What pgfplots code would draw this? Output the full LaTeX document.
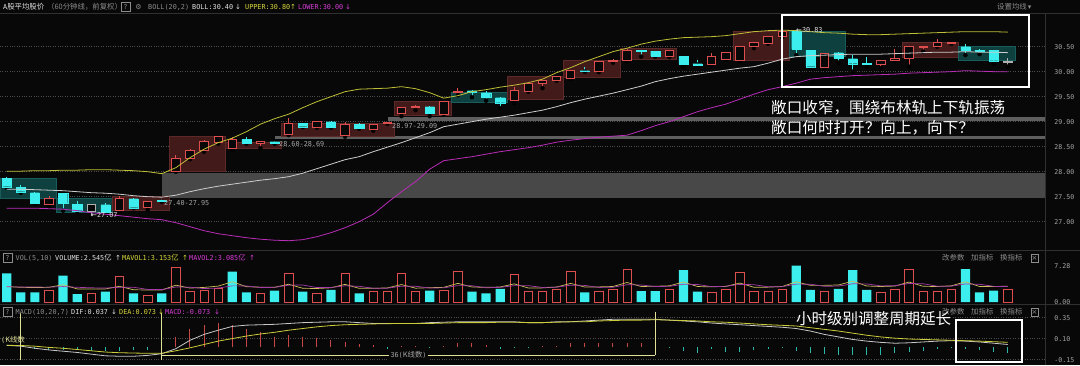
\documentclass[border=0pt]{standalone}
\usepackage{pgfplots}
\pgfplotsset{compat=1.18}
\usepackage{pgfplotstable}
\usepackage{fontspec}
\setmainfont{DejaVu Sans Mono}
\newfontfamily\cjk{Noto Sans CJK SC}
\newfontfamily\djs{DejaVu Sans}

\definecolor{bgc}{RGB}{8,8,8}
\definecolor{sepc}{RGB}{48,48,48}
\definecolor{gridc}{RGB}{75,75,75}
\definecolor{labc}{RGB}{165,165,165}
\definecolor{hwhite}{RGB}{225,225,225}
\definecolor{hgray}{RGB}{140,140,140}
\definecolor{hyel}{RGB}{215,215,60}
\definecolor{hmag}{RGB}{215,60,215}
\definecolor{cred}{RGB}{222,78,78}
\definecolor{ccyan}{RGB}{60,238,238}
\definecolor{cgray}{RGB}{175,175,175}
\definecolor{boxr}{RGB}{66,26,26}
\definecolor{boxrl}{RGB}{92,40,40}
\definecolor{boxt}{RGB}{14,64,64}
\definecolor{boxtl}{RGB}{25,92,92}
\definecolor{bandA}{RGB}{72,72,72}
\definecolor{bandB}{RGB}{95,95,95}
\definecolor{bup}{RGB}{190,190,55}
\definecolor{bmid}{RGB}{205,205,205}
\definecolor{blo}{RGB}{185,45,185}
\definecolor{mav1}{RGB}{205,190,90}
\definecolor{mav2}{RGB}{165,60,170}
\definecolor{difc}{RGB}{200,200,200}
\definecolor{deac}{RGB}{205,205,60}
\definecolor{mred}{RGB}{200,70,70}
\definecolor{mcyan}{RGB}{40,185,170}
\definecolor{annc}{RGB}{225,225,150}

\newcommand{\hf}{\fontsize{6.8}{8}\selectfont}
\newcommand{\hc}{\cjk\fontsize{7.4}{8}\selectfont}
\newcommand{\ar}[1]{{\djs\fontsize{7}{8}\selectfont #1}}

% candles: i open high low close
\pgfplotstableread{
i o h l c
3 27.35 27.51 27.30 27.47
8 27.22 27.51 27.20 27.47
10 27.29 27.42 27.24 27.41
12 28.01 28.33 28.00 28.27
13 28.27 28.45 28.25 28.43
14 28.42 28.63 28.40 28.60
15 28.58 28.72 28.56 28.71
16 28.47 28.70 28.43 28.65
18 28.57 28.60 28.47 28.60
20 28.75 29.07 28.73 28.97
22 28.89 29.02 28.88 29.00
24 28.72 28.99 28.70 28.95
26 28.85 28.96 28.82 28.95
27 28.97 29.00 28.96 28.99
28 29.17 29.30 29.11 29.29
29 29.29 29.34 29.23 29.31
31 29.15 29.40 29.15 29.40
32 29.59 29.67 29.53 29.61
36 29.43 29.70 29.37 29.63
37 29.61 29.78 29.60 29.77
38 29.77 29.84 29.67 29.83
39 29.83 29.91 29.82 29.90
40 29.87 30.03 29.86 30.02
42 30.00 30.21 29.99 30.20
43 30.20 30.25 30.18 30.23
44 30.23 30.46 30.20 30.43
47 30.30 30.43 30.29 30.42
50 30.14 30.37 30.13 30.30
51 30.25 30.40 30.24 30.39
52 30.22 30.52 30.21 30.51
53 30.50 30.60 30.47 30.58
54 30.57 30.71 30.56 30.70
55 30.70 30.81 30.69 30.80
58 30.08 30.38 30.07 30.37
62 30.14 30.24 30.07 30.23
63 30.22 30.45 30.21 30.27
64 30.27 30.51 30.10 30.50
65 30.49 30.52 30.40 30.50
66 30.51 30.65 30.50 30.59
67 30.57 30.60 30.56 30.59
}\tabRed

\pgfplotstableread{
i o h l c
0 27.87 27.90 27.68 27.70
1 27.69 27.73 27.58 27.60
2 27.58 27.59 27.36 27.37
4 27.57 27.58 27.22 27.37
5 27.35 27.42 27.21 27.22
7 27.34 27.37 27.18 27.19
9 27.46 27.47 27.27 27.28
11 27.43 27.45 27.40 27.41
17 28.65 28.70 28.56 28.57
19 28.60 28.61 28.56 28.57
21 28.97 28.98 28.89 28.90
23 29.00 29.01 28.88 28.89
25 28.95 28.97 28.86 28.87
30 29.30 29.32 29.11 29.17
33 29.62 29.63 29.49 29.60
34 29.58 29.62 29.42 29.49
35 29.48 29.49 29.27 29.38
41 30.02 30.10 30.00 30.01
45 30.43 30.44 30.30 30.41
46 30.41 30.42 30.30 30.31
48 30.31 30.32 30.10 30.15
49 30.16 30.24 30.14 30.14
56 30.82 30.83 30.33 30.45
57 30.43 30.44 30.09 30.10
59 30.38 30.40 30.18 30.27
60 30.26 30.33 30.00 30.16
61 30.17 30.30 30.10 30.15
68 30.50 30.56 30.33 30.43
69 30.43 30.45 30.35 30.42
70 30.43 30.44 30.16 30.22
}\tabCyan

\pgfplotstableread{
i o h l c
6 27.21 27.35 27.07 27.34
71 30.19 30.27 30.10 30.20
}\tabGray

% Bollinger bands
\pgfplotstableread{
i up mid lo
0 28.01 27.65 27.27
1 28.01 27.65 27.27
2 28.02 27.64 27.27
3 28.02 27.63 27.26
4 28.03 27.62 27.25
5 28.03 27.60 27.22
6 28.04 27.58 27.18
7 28.04 27.57 27.15
8 28.03 27.55 27.12
9 28.02 27.52 27.09
10 28.00 27.50 27.06
11 27.96 27.49 27.04
12 28.08 27.53 26.98
13 28.28 27.60 26.90
14 28.45 27.66 26.82
15 28.58 27.71 26.76
16 28.67 27.75 26.72
17 28.80 27.79 26.68
18 28.95 27.83 26.65
19 29.06 27.86 26.63
20 29.15 27.90 26.62
21 29.28 27.97 26.64
22 29.40 28.06 26.70
23 29.50 28.15 26.78
24 29.60 28.24 26.88
25 29.65 28.30 27.00
26 29.66 28.40 27.15
27 29.67 28.49 27.38
28 29.70 28.58 27.60
29 29.66 28.68 27.80
30 29.58 28.78 28.05
31 29.47 28.90 28.22
32 29.52 28.95 28.26
33 29.60 29.00 28.30
34 29.64 29.05 28.35
35 29.69 29.09 28.40
36 29.73 29.13 28.44
37 29.78 29.18 28.48
38 29.85 29.23 28.53
39 29.98 29.30 28.59
40 30.08 29.38 28.63
41 30.20 29.45 28.66
42 30.30 29.51 28.69
43 30.40 29.57 28.71
44 30.47 29.64 28.73
45 30.55 29.71 28.82
46 30.61 29.80 28.92
47 30.65 29.86 29.00
48 30.68 29.91 29.10
49 30.69 29.95 29.20
50 30.70 29.99 29.28
51 30.72 30.03 29.35
52 30.76 30.07 29.45
53 30.80 30.10 29.55
54 30.82 30.17 29.64
55 30.83 30.25 29.70
56 30.82 30.30 29.77
57 30.80 30.32 29.85
58 30.78 30.33 29.88
59 30.77 30.34 29.90
60 30.75 30.35 29.92
61 30.74 30.35 29.93
62 30.74 30.35 29.94
63 30.75 30.36 29.95
64 30.76 30.37 29.97
65 30.77 30.38 29.98
66 30.78 30.39 29.99
67 30.79 30.39 30.00
68 30.80 30.40 30.02
69 30.80 30.39 30.01
70 30.80 30.39 30.00
71 30.79 30.38 30.00
}\tabBoll

% volume (yi)
\pgfplotstableread{
i v
3 2.41
6 1.74
8 5.08
10 1.41
12 6.88
13 2.20
14 2.41
15 2.74
18 1.74
20 5.75
22 1.74
24 5.75
26 2.07
27 2.20
28 5.75
29 2.07
31 2.41
32 6.21
36 5.55
37 2.07
38 2.20
39 2.61
40 6.21
42 2.20
43 2.61
44 6.61
47 2.61
50 1.94
51 2.61
52 5.95
53 2.20
54 2.20
55 2.61
58 2.20
62 1.94
63 2.61
64 6.61
65 2.20
66 2.20
67 2.61
71 2.55
}\volRed

\pgfplotstableread{
i v
0 5.75
1 1.94
2 1.94
4 5.28
5 1.60
7 2.07
9 1.74
11 1.74
16 6.08
17 1.94
19 2.27
21 2.07
23 2.41
25 1.74
30 2.27
33 2.07
34 1.74
35 2.61
41 1.94
45 2.20
46 2.20
48 6.41
49 2.07
56 7.28
57 2.41
59 2.61
60 6.41
61 2.41
68 6.61
69 1.94
70 2.27
}\volCyan

\pgfplotstableread{
i m5 m10
0 3.10 3.05
1 2.95 3.02
2 2.90 3.00
3 2.95 2.98
4 3.46 3.10
5 2.63 2.95
6 2.59 2.85
7 2.62 2.80
8 3.15 2.95
9 2.45 2.96
10 2.41 2.52
11 2.41 2.50
12 3.37 3.00
13 2.79 2.97
14 2.93 2.69
15 3.19 2.80
16 4.06 3.24
17 3.07 3.22
18 2.98 2.89
19 2.95 2.94
20 3.56 3.38
21 2.75 3.41
22 2.71 2.89
23 2.85 2.92
24 3.54 3.25
25 2.74 3.15
26 2.74 2.75
27 2.83 2.77
28 3.50 3.18
29 2.77 3.16
30 2.87 2.81
31 2.94 2.84
32 3.74 3.29
33 3.01 3.26
34 2.94 2.86
35 3.01 2.94
36 3.64 3.29
37 2.81 3.28
38 2.83 2.92
39 3.01 2.98
40 3.73 3.37
41 3.01 3.33
42 3.03 2.92
43 3.11 2.97
44 3.91 3.46
45 3.11 3.42
46 3.16 3.09
47 3.25 3.14
48 4.01 3.56
49 3.10 3.51
50 3.05 3.08
51 3.13 3.15
52 3.80 3.53
53 2.95 3.48
54 2.98 3.04
55 3.11 3.08
56 4.05 3.59
57 3.34 3.57
58 3.34 3.15
59 3.42 3.20
60 4.18 3.65
61 3.21 3.63
62 3.11 3.23
63 3.20 3.27
64 4.00 3.71
65 3.15 3.67
66 3.11 3.16
67 3.25 3.18
68 4.05 3.63
69 3.11 3.56
70 3.13 3.14
71 3.15 3.09
}\volMA

% MACD
\pgfplotstableread{
i dif dea
0 0.020 0.020
1 0.010 0.018
2 -0.015 0.010
3 -0.035 -0.005
4 -0.050 -0.015
5 -0.065 -0.030
6 -0.085 -0.045
7 -0.105 -0.060
8 -0.110 -0.068
9 -0.110 -0.072
10 -0.100 -0.075
11 -0.080 -0.075
12 -0.020 -0.045
13 0.080 -0.010
14 0.150 0.030
15 0.200 0.070
16 0.245 0.100
17 0.260 0.130
18 0.265 0.155
19 0.270 0.175
20 0.280 0.200
21 0.290 0.220
22 0.295 0.240
23 0.300 0.255
24 0.300 0.265
25 0.290 0.270
26 0.280 0.275
27 0.280 0.278
28 0.280 0.280
29 0.280 0.280
30 0.290 0.280
31 0.295 0.285
32 0.300 0.290
33 0.300 0.290
34 0.300 0.290
35 0.300 0.295
36 0.300 0.295
37 0.290 0.290
38 0.290 0.290
39 0.300 0.295
40 0.300 0.300
41 0.310 0.300
42 0.320 0.310
43 0.330 0.315
44 0.330 0.320
45 0.330 0.320
46 0.330 0.325
47 0.320 0.320
48 0.310 0.315
49 0.300 0.310
50 0.285 0.300
51 0.275 0.295
52 0.265 0.285
53 0.255 0.275
54 0.245 0.265
55 0.235 0.258
56 0.220 0.250
57 0.190 0.230
58 0.150 0.210
59 0.120 0.190
60 0.090 0.165
61 0.070 0.140
62 0.055 0.120
63 0.045 0.105
64 0.050 0.095
65 0.060 0.090
66 0.070 0.085
67 0.075 0.080
68 0.070 0.075
69 0.060 0.070
70 0.045 0.063
71 0.030 0.056
}\macdLines

\pgfplotstableread{
i v
12 0.12
13 0.21
14 0.26
15 0.28
16 0.26
17 0.22
18 0.18
19 0.12
20 0.14
21 0.12
22 0.11
23 0.08
24 0.06
25 0.03
26 0.02
28 0.015
29 0.01
31 0.012
32 0.05
33 0.05
34 0.02
38 0.01
39 0.015
40 0.05
41 0.05
42 0.05
43 0.05
44 0.05
45 0.05
46 0.02
}\macdPos

\pgfplotstableread{
i v
1 -0.01
2 -0.02
3 -0.03
4 -0.035
5 -0.04
6 -0.045
7 -0.05
8 -0.045
9 -0.035
10 -0.03
11 -0.015
27 -0.02
30 -0.008
35 -0.02
36 -0.015
37 -0.008
47 -0.01
48 -0.05
49 -0.07
50 -0.02
51 -0.06
52 -0.055
53 -0.04
54 -0.025
55 -0.01
56 -0.05
57 -0.07
58 -0.085
59 -0.10
60 -0.10
61 -0.095
62 -0.09
63 -0.075
64 -0.06
65 -0.045
66 -0.02
67 -0.01
68 -0.02
69 -0.035
70 -0.06
71 -0.075
}\macdNeg

\pgfplotsset{
  kbase/.style={scale only axis, width=1045pt, xmin=-0.475, xmax=73.64, anchor=south west},
  kprice/.style={kbase, at={(0pt,115pt)}, height=237pt, ymin=26.434, ymax=31.174},
  kvol/.style={kbase, at={(0pt,60pt)}, height=55pt, ymin=-0.60, ymax=10.43},
  kmacd/.style={kbase, at={(0pt,0pt)}, height=60pt, ymin=-0.2143, ymax=0.5},
  kshow/.style={axis line style={draw=none}, xtick=\empty, major tick length=0pt,
    yticklabel pos=right, ymajorgrids, grid style={dotted, gridc, line width=0.6pt},
    /pgf/number format/assume math mode=true,
    yticklabel style={font=\fontsize{6.6}{7}\selectfont, text=labc, xshift=6pt,
      /pgf/number format/fixed, /pgf/number format/fixed zerofill,
      /pgf/number format/precision=2, /pgf/number format/assume math mode=true}},
  rbox/.style={fill=boxr, draw=boxrl, line width=0.5pt},
  tbox/.style={fill=boxt, draw=boxtl, line width=0.5pt},
}

\begin{document}
\begin{tikzpicture}[x=1pt,y=1pt]
\useasboundingbox (0,0) rectangle (1080,365);
\fill[bgc] (0,0) rectangle (1080,365);

% ---------------- price panel: grid, zones, boxes, wicks
\begin{axis}[kprice, kshow, ytick={27,27.5,28,28.5,29,29.5,30,30.5}]
% gap bands
\addplot[fill=bandA, draw=none] coordinates {(11,27.47) (73.64,27.47) (73.64,27.97) (11,27.97)} -- cycle;
\addplot[fill=bandB, draw=none] coordinates {(19,28.65) (73.64,28.65) (73.64,28.71) (19,28.71)} -- cycle;
\addplot[fill=bandB, draw=none] coordinates {(27.06,29.01) (73.64,29.01) (73.64,29.10) (27.06,29.10)} -- cycle;
% group boxes
\addplot[tbox] coordinates {(-0.475,27.47) (3.5,27.47) (3.5,27.87) (-0.475,27.87)} -- cycle;
\addplot[tbox] coordinates {(3.5,27.18) (7.5,27.18) (7.5,27.47) (3.5,27.47)} -- cycle;
\addplot[rbox] coordinates {(7.5,27.23) (11.5,27.23) (11.5,27.51) (7.5,27.51)} -- cycle;
\addplot[rbox] coordinates {(11.5,28.01) (15.5,28.01) (15.5,28.71) (11.5,28.71)} -- cycle;
\addplot[rbox] coordinates {(15.5,28.47) (19.5,28.47) (19.5,28.58) (15.5,28.58)} -- cycle;
\addplot[rbox] coordinates {(19.5,28.71) (27.5,28.71) (27.5,28.97) (19.5,28.97)} -- cycle;
\addplot[rbox] coordinates {(27.5,29.13) (31.5,29.13) (31.5,29.40) (27.5,29.40)} -- cycle;
\addplot[tbox] coordinates {(31.5,29.38) (35.5,29.38) (35.5,29.58) (31.5,29.58)} -- cycle;
\addplot[rbox] coordinates {(35.5,29.45) (39.5,29.45) (39.5,29.91) (35.5,29.91)} -- cycle;
\addplot[rbox] coordinates {(39.5,29.89) (43.5,29.89) (43.5,30.23) (39.5,30.23)} -- cycle;
\addplot[rbox] coordinates {(43.5,30.25) (47.5,30.25) (47.5,30.47) (43.5,30.47)} -- cycle;
\addplot[rbox] coordinates {(51.5,30.23) (55.5,30.23) (55.5,30.80) (51.5,30.80)} -- cycle;
\addplot[tbox] coordinates {(55.5,30.30) (59.5,30.30) (59.5,30.80) (55.5,30.80)} -- cycle;
\addplot[rbox] coordinates {(63.5,30.28) (67.5,30.28) (67.5,30.59) (63.5,30.59)} -- cycle;
\addplot[tbox] coordinates {(67.5,30.22) (71.5,30.22) (71.5,30.50) (67.5,30.50)} -- cycle;
% wicks
\addplot[only marks, mark=none, error bars/.cd, y dir=plus, y explicit, error mark=none,
  error bar style={draw=cred, line width=0.9pt}]
  table[x=i, y=l, y error plus expr=\thisrow{h}-\thisrow{l}]{\tabRed};
\addplot[only marks, mark=none, error bars/.cd, y dir=plus, y explicit, error mark=none,
  error bar style={draw=ccyan, line width=0.9pt}]
  table[x=i, y=l, y error plus expr=\thisrow{h}-\thisrow{l}]{\tabCyan};
\addplot[only marks, mark=none, error bars/.cd, y dir=plus, y explicit, error mark=none,
  error bar style={draw=cgray, line width=0.9pt}]
  table[x=i, y=l, y error plus expr=\thisrow{h}-\thisrow{l}]{\tabGray};
\end{axis}

% bodies
\begin{axis}[kprice, hide axis, ybar stacked, bar width=8.4pt]
\addplot[draw=none, fill=none] table[x=i, y=o]{\tabRed};
\addplot[draw=cred, fill=bgc, line width=0.8pt] table[x=i, y expr=\thisrow{c}-\thisrow{o}]{\tabRed};
\end{axis}
\begin{axis}[kprice, hide axis, ybar stacked, bar width=9.2pt]
\addplot[draw=none, fill=none] table[x=i, y=c]{\tabCyan};
\addplot[draw=ccyan, fill=ccyan, line width=0.3pt] table[x=i, y expr=\thisrow{o}-\thisrow{c}]{\tabCyan};
\end{axis}
\begin{axis}[kprice, hide axis, ybar stacked, bar width=8.4pt]
\addplot[draw=none, fill=none] table[x=i, y=o]{\tabGray};
\addplot[draw=cgray, fill=bgc, line width=0.8pt] table[x=i, y expr=\thisrow{c}-\thisrow{o}]{\tabGray};
\end{axis}

% Bollinger lines
\begin{axis}[kprice, hide axis]
\addplot[bup, line width=0.8pt] table[x=i, y=up]{\tabBoll};
\addplot[bmid, line width=0.8pt] table[x=i, y=mid]{\tabBoll};
\addplot[blo, line width=0.8pt] table[x=i, y=lo]{\tabBoll};
\end{axis}

% ---------------- volume panel
\begin{axis}[kvol, kshow, ytick={0,7.28}, grid style={draw=none}]
\addplot[ybar, bar width=8.4pt, bar shift=0pt, draw=cred, fill=bgc, line width=0.7pt] table[x=i, y=v]{\volRed};
\addplot[ybar, bar width=9.2pt, bar shift=0pt, draw=none, fill=ccyan] table[x=i, y=v]{\volCyan};
\addplot[sharp plot, mav1, line width=0.7pt] table[x=i, y=m5]{\volMA};
\addplot[sharp plot, mav2, line width=0.7pt] table[x=i, y=m10]{\volMA};
\end{axis}

% ---------------- MACD panel
\begin{axis}[kmacd, kshow, ytick={-0.15,0.1,0.35}]
\addplot[ycomb, mred, line width=1pt] table[x=i, y=v]{\macdPos};
\addplot[ycomb, mcyan, line width=1pt] table[x=i, y=v]{\macdNeg};
\addplot[difc, line width=0.8pt] table[x=i, y=dif]{\macdLines};
\addplot[deac, line width=0.8pt] table[x=i, y=dea]{\macdLines};
\addplot[annc, line width=0.8pt] coordinates {(1,0.41) (1,-0.155)};
\addplot[annc, line width=0.8pt] coordinates {(11,0.41) (11,-0.155)};
\addplot[annc, line width=0.8pt] coordinates {(46,0.42) (46,-0.095)};
\addplot[annc, line width=0.8pt] coordinates {(11,-0.095) (46,-0.095)};
\node[fill=bgc, text=labc, inner sep=1.2pt, font=\hf] at (axis cs:28.5,-0.095) {36({\hc K线数})};
\end{axis}

% separators
\draw[sepc, line width=0.8pt] (0,352) -- (1080,352);
\draw[sepc, line width=0.8pt] (0,114.5) -- (1080,114.5);
\draw[sepc, line width=0.8pt] (0,60.5) -- (1080,60.5);
\draw[sepc, line width=0.6pt] (1045,0) -- (1045,352);

% ---------------- headers
\begin{scope}[every node/.style={anchor=west, inner sep=0pt, font=\hf}]
\node[text=hwhite] at (3,358) {A{\hc 股平均股价}};
\node[text=hgray] at (47,358) {{\hc （60分钟线，前复权）}};
\node[text=hgray, draw=hgray, line width=0.5pt, minimum width=8.5pt, minimum height=9pt, anchor=center] at (125.5,358) {?};
\node[text=hgray, anchor=center] at (138.5,358) {\ar{⚙}};
\node[text=hgray] at (148,358) {BOLL(20,2)};
\node[text=hwhite] at (192,358) {BOLL:30.40};
\node[text=hwhite] at (235,358) {\ar{↓}};
\node[text=hyel] at (245,358) {UPPER:30.80};
\node[text=hyel] at (290,358) {\ar{↑}};
\node[text=hmag] at (298,358) {LOWER:30.00};
\node[text=hmag] at (345,358) {\ar{↓}};
\node[text=hgray] at (997,358) {{\hc 设置均线}\,\ar{▾}};

% volume header
\node[text=hgray, draw=hgray, line width=0.5pt, minimum width=8.5pt, minimum height=9pt, anchor=center] at (7.5,107) {?};
\node[text=hgray] at (15.5,107) {VOL(5,10)};
\node[text=hwhite] at (55,107) {VOLUME:2.545{\hc 亿}};
\node[text=hwhite] at (115,107) {\ar{↑}};
\node[text=hyel] at (122,107) {MAVOL1:3.153{\hc 亿}};
\node[text=hyel] at (182,107) {\ar{↑}};
\node[text=hmag] at (189,107) {MAVOL2:3.085{\hc 亿}};
\node[text=hmag] at (249,107) {\ar{↑}};
\node[text=hgray] at (942,107) {{\hc 改参数}};
\node[text=hgray] at (971,107) {{\hc 加指标}};
\node[text=hgray] at (1000,107) {{\hc 换指标}};
\node[text=hgray, draw=hgray, line width=0.5pt, minimum width=7.5pt, minimum height=7.5pt, anchor=center] at (1034.5,107) {\ar{×}};

% MACD header
\node[text=hgray, draw=hgray, line width=0.5pt, minimum width=8.5pt, minimum height=9pt, anchor=center] at (7.5,53) {?};
\node[text=hgray] at (15.5,53) {MACD(10,20,7)};
\node[text=hwhite] at (71,53) {DIF:0.037};
\node[text=hwhite] at (111,53) {\ar{↓}};
\node[text=hyel] at (119,53) {DEA:0.073};
\node[text=hyel] at (158,53) {\ar{↓}};
\node[text=hmag] at (165,53) {MACD:-0.073};
\node[text=hmag] at (214,53) {\ar{↓}};
\node[text=hgray] at (942,53) {{\hc 改参数}};
\node[text=hgray] at (971,53) {{\hc 加指标}};
\node[text=hgray] at (1000,53) {{\hc 换指标}};
\node[text=hgray, draw=hgray, line width=0.5pt, minimum width=7.5pt, minimum height=7.5pt, anchor=center] at (1034.5,53) {\ar{×}};
\node[text=annc] at (1,25) {({\hc K线数}};

% price labels
\node[text=hwhite] at (91,149.5) {\ar{←}27.07};
\node[text=labc] at (164,161.5) {27.40-27.95};
\node[text=labc] at (279,221) {28.60-28.69};
\node[text=labc] at (392,239) {28.97-29.09};
\node[text=hwhite] at (796,334.7) {\ar{←}30.83};
\end{scope}

% annotations
\draw[white, line width=2pt] (782,349.5) rectangle (1029,278);
\node[anchor=west, inner sep=0pt, text=white, font={\cjk\fontsize{15.6}{18}\selectfont}] at (771,257) {敞口收窄，围绕布林轨上下轨振荡};
\node[anchor=west, inner sep=0pt, text=white, font={\cjk\fontsize{15.6}{18}\selectfont}] at (771,237.5) {敞口何时打开？向上，向下？};
\node[anchor=west, inner sep=0pt, text=white, font={\cjk\fontsize{15.5}{18}\selectfont}] at (796,46) {小时级别调整周期延长};
\draw[white, line width=2pt] (955.5,45) rectangle (1022,3.5);
\end{tikzpicture}
\end{document}
